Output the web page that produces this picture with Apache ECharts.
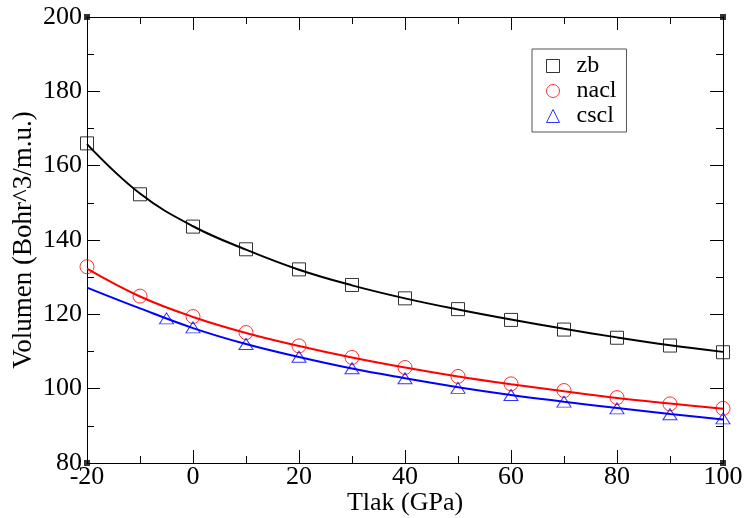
<!DOCTYPE html>
<html>
<head>
<meta charset="utf-8">
<script src="https://cdn.jsdelivr.net/npm/echarts@6/dist/echarts.min.js"></script>
<style>html,body{margin:0;padding:0;background:#fff}#c{width:745px;height:518px}</style>
</head>
<body>
<div id="c"></div>
<script>
// Pressure (GPa) at which markers are plotted
const zbP   = [-20, -10, 0, 10, 20, 30, 40, 50, 60, 70, 80, 90, 100];
const zbV   = [166.0, 152.3, 143.6, 137.5, 132.1, 127.9, 124.3, 121.4, 118.5, 115.9, 113.7, 111.6, 109.8];
const naclP = [-20, -10, 0, 10, 20, 30, 40, 50, 60, 70, 80, 90, 100];
const naclV = [132.8, 124.9, 119.4, 115.1, 111.5, 108.4, 105.7, 103.3, 101.3, 99.5, 97.6, 95.9, 94.7];
const csclP = [-5, 0, 10, 20, 30, 40, 50, 60, 70, 80, 90, 100];
const csclV = [118.9, 116.5, 112.0, 108.6, 105.5, 102.8, 100.2, 98.3, 96.5, 94.7, 93.1, 92.0];

// Fitted curves, read at every 10 GPa
const fitP     = [-20, -10, 0, 10, 20, 30, 40, 50, 60, 70, 80, 90, 100];
const zbFit    = [165.8, 152.5, 143.7, 137.4, 132.0, 127.8, 124.3, 121.3, 118.6, 116.1, 113.8, 111.7, 109.9];
const naclFit  = [132.3, 124.8, 119.3, 115.0, 111.5, 108.4, 105.7, 103.3, 101.2, 99.3, 97.5, 96.0, 94.6];
const csclFit  = [127.2, 121.6, 116.3, 112.0, 108.5, 105.4, 102.8, 100.4, 98.3, 96.5, 94.8, 93.2, 91.7];

// Frame corner markers
const cornerP = [-20, -20, 100, 100];
const cornerV = [80, 200, 80, 200];

const xTicks = [-20, 0, 20, 40, 60, 80, 100];
const yTicks = [80, 100, 120, 140, 160, 180, 200];

const FONT = 'Liberation Serif';
const pairs = (xs, ys) => xs.map((x, i) => [x, ys[i]]);

const chart = echarts.init(document.getElementById('c'), null, {renderer: 'canvas'});

const axisLine = {show: true, onZero: false, lineStyle: {color: '#000', width: 1}};
const tick = {show: true, inside: true, length: 13, lineStyle: {color: '#000', width: 1}};
const minor = {show: true, splitNumber: 2, length: 7, lineStyle: {color: '#000', width: 1}};

const option = {
  animation: false,
  backgroundColor: '#fff',
  grid: {left: 87, right: 22, top: 17, bottom: 55, containLabel: false, outerBoundsMode: 'none'},
  xAxis: [
    {type: 'value', min: xTicks[0], max: xTicks[xTicks.length - 1], interval: 20, position: 'bottom',
     name: 'Tlak (GPa)', nameLocation: 'middle', nameGap: 27, nameMoveOverlap: false,
     nameTextStyle: {fontFamily: FONT, fontSize: 26, color: '#000'},
     axisLine, axisTick: tick, minorTick: minor, splitLine: {show: false},
     axisLabel: {fontFamily: FONT, fontSize: 26, color: '#000', margin: 1}},
    {type: 'value', min: xTicks[0], max: xTicks[xTicks.length - 1], interval: 20, position: 'top',
     axisLine, axisTick: tick, minorTick: minor, splitLine: {show: false}, axisLabel: {show: false}}
  ],
  yAxis: [
    {type: 'value', min: yTicks[0], max: yTicks[yTicks.length - 1], interval: 20, position: 'left',
     name: 'Volumen (Bohr^3/m.u.)', nameLocation: 'middle', nameGap: 50, nameRotate: 90, nameMoveOverlap: false,
     nameTextStyle: {fontFamily: FONT, fontSize: 27, color: '#000'},
     axisLine, axisTick: tick, minorTick: minor, splitLine: {show: false},
     axisLabel: {fontFamily: FONT, fontSize: 26, color: '#000', margin: 5}},
    {type: 'value', min: yTicks[0], max: yTicks[yTicks.length - 1], interval: 20, position: 'right',
     axisLine, axisTick: tick, minorTick: minor, splitLine: {show: false}, axisLabel: {show: false}}
  ],
  legend: {
    orient: 'vertical', left: 532, top: 49,
    backgroundColor: '#fff', borderColor: '#555', borderWidth: 1,
    padding: [5, 10, 4, 14], itemGap: 1, itemWidth: 13, itemHeight: 13,
    textStyle: {fontFamily: FONT, fontSize: 24, color: '#000', padding: [0, 0, 0, 12]},
    data: [
      {name: 'zb', icon: 'rect', itemStyle: {color: 'rgba(0,0,0,0)', borderColor: '#000', borderWidth: 1}},
      {name: 'nacl', icon: 'circle', itemStyle: {color: 'rgba(0,0,0,0)', borderColor: '#f00', borderWidth: 1}},
      {name: 'cscl', icon: 'triangle', itemStyle: {color: 'rgba(0,0,0,0)', borderColor: '#00f', borderWidth: 1}}
    ]
  },
  series: [
    {name: 'zb-fit', type: 'line', smooth: 0.4, showSymbol: false, data: pairs(fitP, zbFit),
     lineStyle: {color: '#000', width: 2}, z: 2},
    {name: 'nacl-fit', type: 'line', smooth: 0.4, showSymbol: false, data: pairs(fitP, naclFit),
     lineStyle: {color: '#f00', width: 2}, z: 2},
    {name: 'cscl-fit', type: 'line', smooth: 0.4, showSymbol: false, data: pairs(fitP, csclFit),
     lineStyle: {color: '#00f', width: 2}, z: 2},
    {name: 'zb', type: 'scatter', symbol: 'rect', symbolSize: 13, data: pairs(zbP, zbV),
     itemStyle: {color: 'rgba(0,0,0,0)', borderColor: '#000', borderWidth: 1}, clip: false, z: 3},
    {name: 'nacl', type: 'scatter', symbol: 'circle', symbolSize: 14, data: pairs(naclP, naclV),
     itemStyle: {color: 'rgba(0,0,0,0)', borderColor: '#f00', borderWidth: 1}, clip: false, z: 3},
    {name: 'cscl', type: 'scatter', symbol: 'triangle', symbolSize: [14, 11], data: pairs(csclP, csclV),
     itemStyle: {color: 'rgba(0,0,0,0)', borderColor: '#00f', borderWidth: 1}, clip: false, z: 3},
    {name: 'corners', type: 'scatter', symbol: 'rect', symbolSize: 6, data: pairs(cornerP, cornerV),
     itemStyle: {color: '#000'}, clip: false, z: 4, silent: true}
  ]
};
chart.setOption(option);
</script>
</body>
</html>
